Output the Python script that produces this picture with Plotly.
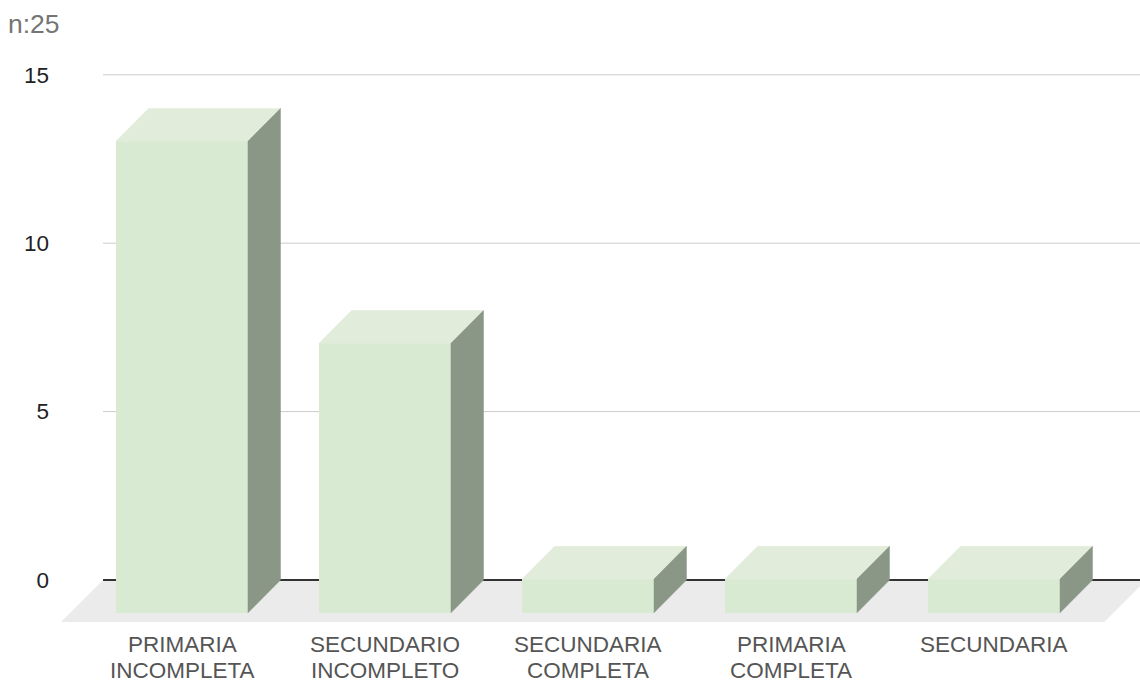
import plotly.graph_objects as go

# Education level counts
categories = [
    ["PRIMARIA", "INCOMPLETA"],
    ["SECUNDARIO", "INCOMPLETO"],
    ["SECUNDARIA", "COMPLETA"],
    ["PRIMARIA", "COMPLETA"],
    ["SECUNDARIA"],
]
counts = [14, 8, 1, 1, 1]
y_ticks = [0, 5, 10, 15]

# 3D look: bar width, depth offset of the bars and of the floor (data units)
BAR_W = 0.65
DX, DY = 0.160, 0.971
FX, FY = 0.207, 1.247
GRID_X0, GRID_X1 = -0.389, 4.75

FRONT = "#d9ead3"
TOP = "#e1edda"
SIDE = "#8a9686"
FLOOR = "#ebebeb"
FONT = "Liberation Sans, Arial, sans-serif"
LABEL_SIZE = 22.5

fig = go.Figure()

shapes = []
# floor parallelogram under the bars
shapes.append(dict(
    type="path", layer="below", xref="x", yref="y",
    path=(f"M {GRID_X0},0 L {GRID_X1},0 L {GRID_X1 - FX},{-FY} "
          f"L {GRID_X0 - FX},{-FY} Z"),
    fillcolor=FLOOR, line=dict(width=0),
))
# gridlines on the back wall and the baseline
for t in y_ticks:
    shapes.append(dict(
        type="line", layer="below", xref="x", yref="y",
        x0=GRID_X0, x1=GRID_X1, y0=t, y1=t,
        line=dict(color="#333333" if t == 0 else "#cccccc",
                  width=2 if t == 0 else 1),
    ))

# front faces
idx = list(range(len(counts)))
fig.add_trace(go.Bar(
    x=idx, y=counts, base=-DY, width=BAR_W,
    marker=dict(color=FRONT, line=dict(width=0)),
    showlegend=False, hovertemplate="%{y}<extra></extra>",
))

# top and side faces
xs_top, ys_top, xs_side, ys_side = [], [], [], []
for i, v in zip(idx, counts):
    l, r = i - BAR_W / 2, i + BAR_W / 2
    xs_top += [l, l + DX, r + DX, r, l, None]
    ys_top += [v - DY, v, v, v - DY, v - DY, None]
    xs_side += [r, r + DX, r + DX, r, r, None]
    ys_side += [v - DY, v, 0, -DY, v - DY, None]

fig.add_trace(go.Scatter(x=xs_top, y=ys_top, mode="lines", fill="toself",
                         fillcolor=TOP, line=dict(color=TOP, width=0.5),
                         hoverinfo="skip", showlegend=False))
fig.add_trace(go.Scatter(x=xs_side, y=ys_side, mode="lines", fill="toself",
                         fillcolor=SIDE, line=dict(color=SIDE, width=0.5),
                         hoverinfo="skip", showlegend=False))

# category labels, one annotation per line for tight line spacing
annotations = []
for i, lines in zip(idx, categories):
    for k, line in enumerate(lines):
        annotations.append(dict(
            x=i, y=0, xref="x", yref="paper", xanchor="center",
            yanchor="top", yshift=-9 - 26 * k, showarrow=False, text=line,
            borderpad=0,
            font=dict(size=LABEL_SIZE, color="#555555", family=FONT),
        ))

fig.update_layout(
    width=1140, height=682,
    margin=dict(l=60, r=0, t=40, b=60),
    paper_bgcolor="white", plot_bgcolor="white",
    font=dict(family=FONT),
    title=dict(text=f"n:{sum(counts)}", x=8 / 1140, xanchor="left",
               y=1 - 24 / 682, yanchor="middle",
               font=dict(size=26.5, color="#757575", family=FONT)),
    shapes=shapes,
    annotations=annotations,
    xaxis=dict(range=[-0.601, 4.719], showticklabels=False,
               showgrid=False, zeroline=False, showline=False, ticks="",
               fixedrange=True),
    yaxis=dict(range=[-FY, -FY + 582 / 33.68], tickvals=y_ticks,
               showgrid=False, zeroline=False, showline=False, ticks="",
               tickfont=dict(size=LABEL_SIZE, color="#222222"),
               fixedrange=True, ticklabelstandoff=10),
    bargap=0,
)

fig.write_html("out.html")
